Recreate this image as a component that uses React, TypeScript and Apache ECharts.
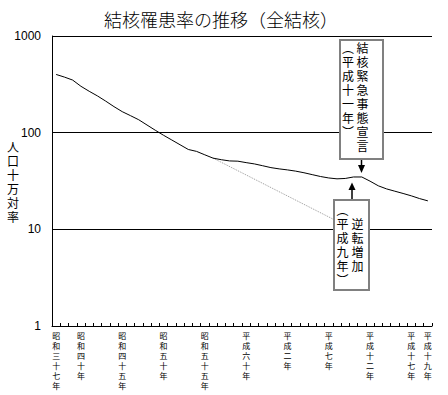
import React, { useEffect, useRef } from "react";
import * as echarts from "echarts";

const years = [
  "1962", "1963", "1964", "1965", "1966", "1967", "1968", "1969", "1970", "1971",
  "1972", "1973", "1974", "1975", "1976", "1977", "1978", "1979", "1980", "1981",
  "1982", "1983", "1984", "1985", "1986", "1987", "1988", "1989", "1990", "1991",
  "1992", "1993", "1994", "1995", "1996", "1997", "1998", "1999", "2000", "2001",
  "2002", "2003", "2004", "2005", "2006", "2007",
];

const incidence = [
  400, 376, 350, 302, 268, 240, 212, 186, 165, 150,
  136, 120, 106, 94, 84, 75, 67, 64, 59, 54.5,
  52.5, 51, 50.7, 49, 47.5, 45.5, 43.5, 42.2, 41.2, 40,
  38.5, 36.8, 35.2, 34, 33.3, 33.6, 34.8, 34.8, 31.5, 28.2,
  26.2, 24.8, 23.5, 22.2, 20.8, 19.7,
];

const trendYears = ["1981", "1997"];
const trendValues = [54.5, 11];

const labelYears = ["1962", "1965", "1970", "1975", "1980", "1985", "1990", "1995", "2000", "2005", "2007"];
const labelTexts = [
  "昭和三十七年", "昭和四十年", "昭和四十五年", "昭和五十年", "昭和五十五年",
  "平成六十年", "平成二年", "平成七年", "平成十二年", "平成十七年", "平成十九年",
];

const yTicks = [1, 10, 100, 1000];

const titleText = "結核罹患率の推移（全結核）";
const yAxisTitle = "人口十万対率";
const note1Main = "結核緊急事態宣言";
const note1Sub = "︵平成十一年︶";
const note2Main = "逆転増加";
const note2Sub = "︵平成九年︶";

const CJK = "'Noto Sans CJK JP', 'Noto Sans CJK SC', sans-serif";
const vert = (s: string) => s.split("").join("\n");

export default function App() {
  const ref = useRef<HTMLDivElement>(null);
  useEffect(() => {
    if (!ref.current) return;
    const chart = echarts.init(ref.current, undefined, { renderer: "svg" });
    const txt = (x: number, y: number, s: string, lh: number) => ({
      type: "text",
      x,
      y,
      z: 101,
      style: {
        text: vert(s),
        fontSize: 12,
        lineHeight: lh,
        fontFamily: CJK,
        fill: "#000",
        align: "center",
        verticalAlign: "top",
        textAlign: "center",
        textVerticalAlign: "top",
      },
    });
    chart.setOption({
      animation: false,
      backgroundColor: "#fff",
      title: {
        text: titleText,
        left: 99,
        top: 5,
        textStyle: { fontSize: 18, fontWeight: 300, color: "#000", fontFamily: CJK },
      },
      grid: { left: 52, right: 16, top: 36, bottom: 69 },
      xAxis: {
        type: "category",
        data: years,
        boundaryGap: true,
        axisLine: { show: true, lineStyle: { color: "#000", width: 1 } },
        axisTick: { show: true, inside: true, length: 3, interval: 0, lineStyle: { color: "#000" } },
        axisLabel: {
          interval: 0,
          margin: 4,
          fontSize: 8,
          lineHeight: 10,
          color: "#000",
          fontFamily: CJK,
          verticalAlign: "top",
          formatter: (v: string) => {
            const i = labelYears.indexOf(v);
            return i >= 0 ? vert(labelTexts[i]) : "";
          },
        },
        splitLine: { show: false },
      },
      yAxis: {
        type: "log",
        logBase: 10,
        min: yTicks[0],
        max: yTicks[yTicks.length - 1],
        axisLine: { show: true, lineStyle: { color: "#000", width: 1 } },
        axisTick: { show: false },
        minorTick: { show: false },
        splitLine: { show: true, lineStyle: { color: "#000", width: 1 } },
        axisLabel: {
          margin: 11,
          fontSize: 12,
          color: "#000",
          fontFamily: "'Liberation Sans', Arial, sans-serif",
          formatter: (v: number) => String(Math.round(v)),
        },
      },
      series: [
        {
          type: "line",
          data: trendYears.map((y, i) => [y, trendValues[i]]),
          connectNulls: true,
          showSymbol: false,
          symbol: "none",
          lineStyle: { color: "#9a9a9a", width: 1, type: "dotted" },
          z: 2,
        },
        {
          type: "line",
          data: incidence,
          showSymbol: false,
          symbol: "none",
          lineStyle: { color: "#000", width: 1 },
          z: 3,
        },
      ],
      graphic: [
        {
          type: "text",
          x: 13,
          y: 139,
          z: 101,
          style: {
            text: vert(yAxisTitle),
            fontSize: 12,
            lineHeight: 14,
            fontFamily: CJK,
            fill: "#000",
            align: "center",
            verticalAlign: "top",
            textAlign: "center",
            textVerticalAlign: "top",
          },
        },
        {
          type: "rect",
          z: 100,
          shape: { x: 340, y: 40, width: 43, height: 119 },
          style: { fill: "#fff", stroke: "#808080", lineWidth: 2 },
        },
        txt(362.5, 40.5, note1Main, 14),
        txt(348, 40.5, note1Sub, 14),
        {
          type: "line",
          z: 100,
          shape: { x1: 361.5, y1: 160, x2: 361.5, y2: 166 },
          style: { stroke: "#000", lineWidth: 1.5 },
        },
        {
          type: "polygon",
          z: 100,
          shape: { points: [[358, 165], [365, 165], [361.5, 173]] },
          style: { fill: "#000" },
        },
        {
          type: "rect",
          z: 100,
          shape: { x: 334, y: 200, width: 35, height: 90 },
          style: { fill: "#fff", stroke: "#808080", lineWidth: 2 },
        },
        txt(357.5, 216.5, note2Main, 14),
        txt(342.5, 202.5, note2Sub, 14),
        {
          type: "line",
          z: 100,
          shape: { x1: 352, y1: 199, x2: 352, y2: 189 },
          style: { stroke: "#000", lineWidth: 1.5 },
        },
        {
          type: "polygon",
          z: 100,
          shape: { points: [[348.5, 190], [355.5, 190], [352, 182.5]] },
          style: { fill: "#000" },
        },
      ],
    });
    return () => chart.dispose();
  }, []);
  return (
    <div
      ref={ref}
      style={{ position: "fixed", left: 0, top: 0, width: 448, height: 395, background: "#fff" }}
    />
  );
}
